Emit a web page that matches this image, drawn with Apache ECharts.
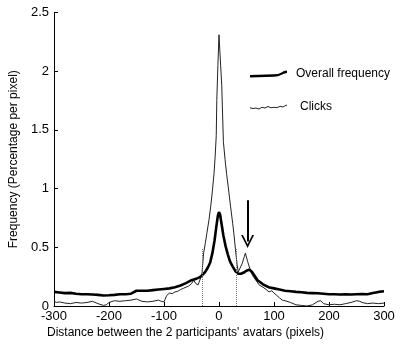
<!DOCTYPE html>
<html>
<head>
<meta charset="utf-8">
<script src="https://cdn.jsdelivr.net/npm/echarts@6/dist/echarts.min.js"></script>
<style>html,body{margin:0;padding:0;background:#fff}#c{width:400px;height:347px}</style>
</head>
<body>
<div id="c"></div>
<script>
// Overall frequency (thick line): [distance, frequency]
var overallX = [-300,-290,-280,-270,-260,-250,-240,-230,-220,-210,-200,-190,-180,-170,-160,-150,-140,-130,-120,-110,-100,-90,-80,-70,-60,-50,-40,-35,-30,-25,-20,-16,-12,-8,-5,-2,0,2,5,8,12,16,20,25,30,35,40,45,50,55,60,65,70,80,90,100,110,120,130,140,150,160,170,180,190,200,210,220,230,240,250,260,270,280,290,300];
var overallY = [0.12,0.115,0.11,0.112,0.105,0.10,0.10,0.098,0.095,0.09,0.092,0.095,0.10,0.10,0.105,0.13,0.13,0.13,0.135,0.14,0.145,0.15,0.16,0.175,0.195,0.22,0.235,0.245,0.265,0.29,0.33,0.37,0.45,0.56,0.67,0.77,0.80,0.78,0.69,0.60,0.51,0.44,0.38,0.335,0.295,0.275,0.275,0.285,0.30,0.31,0.29,0.255,0.22,0.185,0.16,0.15,0.14,0.13,0.125,0.12,0.117,0.112,0.11,0.108,0.105,0.10,0.10,0.098,0.10,0.098,0.10,0.102,0.10,0.11,0.12,0.125];

// Clicks (thin line)
var clicksX = [-300,-295,-290,-280,-270,-260,-250,-240,-230,-220,-210,-205,-200,-190,-180,-170,-160,-150,-140,-130,-120,-110,-105,-100,-97,-95,-90,-85,-80,-75,-70,-65,-60,-55,-50,-46,-42,-38,-34,-31,-28,-25,-22,-18,-15,-12,-9,-7,-5,-4,-2,0,1,3,5,8,11,14,18,21,25,27,30,33,35,38,42,46,48,52,56,61,67,73,80,86,91,96,100,105,110,115,120,130,140,150,160,170,180,185,190,200,210,220,230,240,250,256,260,270,280,290,300];
var clicksY = [0.04,0.03,0.035,0.025,0.02,0.03,0.025,0.03,0.04,0.02,0.005,0.01,0.03,0.045,0.04,0.045,0.05,0.06,0.04,0.035,0.04,0.05,0.04,0.035,0.03,0.09,0.11,0.105,0.12,0.125,0.14,0.15,0.16,0.17,0.19,0.22,0.19,0.18,0.23,0.27,0.45,0.53,0.62,0.74,0.85,0.98,1.13,1.27,1.45,1.75,2.05,2.31,2.30,2.05,1.88,1.40,1.25,1.12,0.97,0.85,0.70,0.62,0.48,0.35,0.29,0.30,0.36,0.42,0.45,0.38,0.32,0.26,0.22,0.18,0.16,0.14,0.12,0.13,0.11,0.09,0.07,0.05,0.045,0.03,0.01,0.005,0.0,0.01,0.04,0.045,0.02,0.01,0.015,0.01,0.02,0.03,0.045,0.04,0.03,0.02,0.025,0.02,0.025];

var xTicks = [-300,-200,-100,0,100,200,300];
var yTicks = [0,0.5,1,1.5,2,2.5];

// reference marks
var dottedX = [-30, 32];
var dottedTop = 0.49;
var arrowX = 52;
var arrowFrom = 0.90;
var arrowTo = 0.55;

function zip(a,b){return a.map(function(v,i){return [v,b[i]];});}

var font = 'Liberation Sans, Arial, sans-serif';
var thickIcon = 'path://M0,4.4 L8,4.2 L16,4.1 L24,3.8 L28,3.4 L31,2.2 L34,0.6 L37,0 L37,2.6 L34,3.2 L31,4.6 L28,5.8 L24,6.2 L16,6.6 L8,6.7 L0,7 Z';
var thinIcon = 'path://M0,3.4 L3,4.2 L6,3.6 L9,4.6 L12,3 L15,3.8 L18,2.2 L21,3.4 L24,3 L27,3.4 L30,2 L33,2.8 L35,1.4 L37,0.8 L37,1.8 L35,2.4 L33,3.8 L30,3 L27,4.4 L24,4 L21,4.4 L18,3.2 L15,4.8 L12,4 L9,5.6 L6,4.6 L3,5.2 L0,4.4 Z';
var chart = echarts.init(document.getElementById('c'));
chart.setOption({
  animation:false,
  grid:{left:49,right:16,top:12.5,bottom:41},
  legend:{
    orient:'vertical', left:245, top:63, itemWidth:37, itemHeight:7, itemGap:21,
    textStyle:{fontFamily:font,fontSize:12,color:'#000',padding:[0,0,0,4]},
    data:[{name:'Overall frequency',icon:thickIcon},
          {name:'Clicks',icon:thinIcon,textStyle:{padding:[0,0,0,8]}}]
  },
  xAxis:{
    type:'value', min:-300, max:300, interval:100,
    axisLine:{lineStyle:{color:'#000',width:1}},
    axisTick:{inside:true,length:4,lineStyle:{color:'#000'}},
    axisLabel:{color:'#000',fontFamily:font,fontSize:13,margin:4},
    splitLine:{show:false}
  },
  yAxis:{
    type:'value', min:0, max:2.5, interval:0.5,
    name:'Frequency (Percentage per pixel)', nameLocation:'middle', nameGap:29,
    nameTextStyle:{color:'#000',fontFamily:font,fontSize:12},
    axisLine:{show:true,onZero:false,lineStyle:{color:'#000',width:1}},
    axisTick:{show:true,inside:true,length:4,lineStyle:{color:'#000'}},
    axisLabel:{color:'#000',fontFamily:font,fontSize:13,margin:5},
    splitLine:{show:false}
  },
  graphic:[{type:'text',left:47,top:327,style:{text:"Distance between the 2 participants' avatars (pixels)",font:'12px '+font,fill:'#000'}}],
  series:[
    {name:'Clicks',type:'line',data:zip(clicksX,clicksY),symbol:'none',
      lineStyle:{color:'#222',width:1},itemStyle:{color:'#222'}, z:2},
    {name:'Overall frequency',type:'line',data:zip(overallX,overallY),symbol:'none',
      lineStyle:{color:'#000',width:2.6},itemStyle:{color:'#000'}, z:3,
      markLine:{silent:true,animation:false,label:{show:false},
        data:[
          [{coord:[arrowX,arrowFrom],symbol:'none',lineStyle:{color:'#000',width:2,type:'solid'}},
           {coord:[arrowX,arrowTo],symbol:'path://M5,0 L10,10 L8.6,10 L5,2.8 L1.4,10 L0,10 Z',symbolSize:[13,13]}],
          [{coord:[dottedX[0],0],symbol:'none',lineStyle:{color:'#777',width:1,type:[1,1]}},
           {coord:[dottedX[0],dottedTop],symbol:'none'}],
          [{coord:[dottedX[1],0],symbol:'none',lineStyle:{color:'#777',width:1,type:[1,1]}},
           {coord:[dottedX[1],dottedTop],symbol:'none'}]
        ]}
    }
  ]
});
</script>
</body>
</html>
